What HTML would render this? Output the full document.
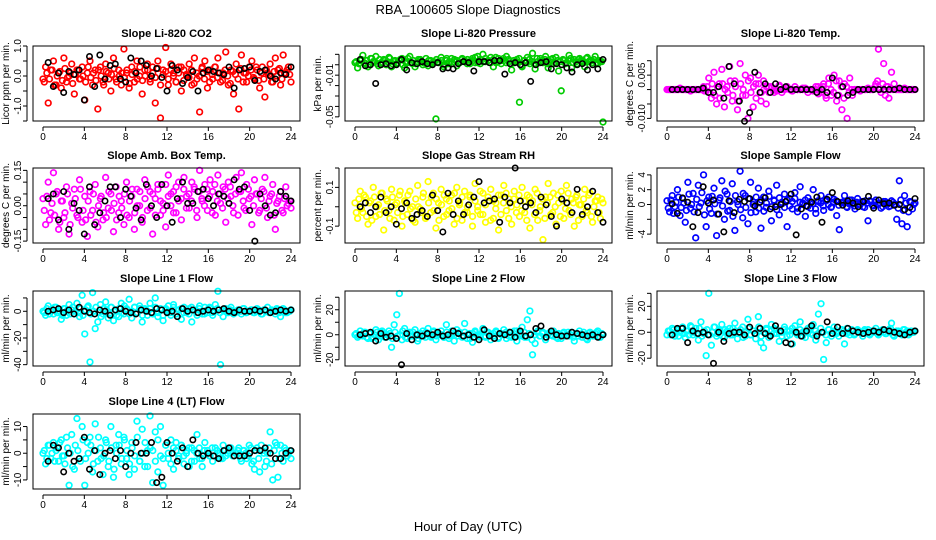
<!DOCTYPE html>
<html><head><meta charset="utf-8"><style>
body{margin:0;background:#fff}
svg{display:block;font-family:"Liberation Sans",sans-serif}
</style></head><body>
<svg id="chart" width="936" height="540" viewBox="0 0 936 540">
<text x="468" y="14" text-anchor="middle" font-size="13">RBA_100605  Slope Diagnostics</text>
<text x="468" y="531" text-anchor="middle" font-size="13">Hour of Day (UTC)</text>
</svg>
<script>
const hourTicks = [0,4,8,12,16,20,24];
const titles = ["Slope Li-820 CO2","Slope Li-820 Pressure","Slope Li-820 Temp.","Slope Amb. Box Temp.","Slope Gas Stream RH","Slope Sample Flow","Slope Line 1 Flow","Slope Line 2 Flow","Slope Line 3 Flow","Slope Line 4 (LT) Flow"];
const yTitles = ["Licor ppm per min.","kPa per min.","degrees C per min.","degrees C per min.","percent per min.","ml/min per min.","ml/min per min.","ml/min per min.","ml/min per min.","ml/min per min."];
const colors = ["#ff0000","#00cc00","#ff00ff","#ff00ff","#ffff00","#0000ff","#00ffff","#00ffff","#00ffff","#00ffff"];
const yLims = [[-1.5,1.0],[-0.054,0.018],[-0.0109,0.0151],[-0.158,0.16],[-0.187,0.2],[-5.2,4.93],[-41,15.2],[-25,35],[-26,31.8],[-13.4,14.7]];
const yTicks = [[-1.5,-1,-0.5,0,0.5,1],[0.01,0,-0.01,-0.02,-0.03,-0.04,-0.05],[0.01,0.005,0,-0.005,-0.01],[-0.15,-0.1,-0.05,0,0.05,0.1,0.15],[-0.1,0,0.1,0.2],[-4,-2,0,2,4],[-40,-30,-20,-10,0,10],[-20,-10,0,10,20,30],[-20,-10,0,10,20,30],[-10,-5,0,5,10]];
const yTickLabels = [{"-1":"-1.0","0":"0.0","1":"1.0"},{"-0.01":"-0.01","-0.05":"-0.05"},{"0.005":"0.005","-0.01":"-0.010"},{"-0.15":"-0.15","0":"0.00","0.15":"0.15"},{"-0.1":"-0.1","0.1":"0.1"},{"-4":"-4","0":"0","2":"2","4":"4"},{"-40":"-40","-20":"-20","0":"0"},{"-20":"-20","0":"0","20":"20"},{"-20":"-20","0":"0","20":"20"},{"-10":"-10","0":"0","10":"10"}];

const co2Vals = [-0.1,0.3,-0.9,0.2,0.5,-0.3,0.1,-0.4,0.6,-0.2,0.0,0.4,-0.6,0.2,-0.1,0.3,-0.8,0.1,0.5,-0.3,0.2,-1.1,0.3,-0.2,0.4,0.1,-0.5,0.6,-0.1,0.2,-0.3,0.9,0.1,-0.4,0.3,-0.2,0.5,0.0,-0.6,0.2,0.4,-0.1,0.3,-0.9,0.5,-1.4,0.2,0.95,-0.3,0.4,0.1,-0.2,0.3,-0.5,0.2,0.0,0.4,-0.3,0.6,-0.1,-1.2,0.3,0.5,-0.4,0.2,-0.1,0.3,0.6,-0.2,0.1,0.8,-0.3,0.2,-0.6,0.4,-1.1,0.7,0.1,-0.2,0.3,0.5,-0.1,0.2,-0.4,0.3,-0.7,0.1,0.4,-0.2,0.6,0.2,-0.3,0.7,0.1,0.3,-0.2];
const co2Band = [-0.2,0.1,-0.1,0.2,-0.3,0.0,0.15,-0.15,0.25,-0.05,0.1,-0.25,0.05,0.2,-0.1,0.0,-0.2,0.3,-0.05,0.1,-0.15,0.2,0.0,-0.3,0.15,-0.1,0.05,0.25,-0.2,0.0,0.1,-0.05,0.2,-0.25,0.05,0.15,-0.1,0.3,-0.15,0.0,0.2,-0.2,0.1,-0.05,0.25,-0.3,0.05,0.15,-0.1,0.2,0.0,-0.2,0.1,0.3,-0.15,0.05,-0.05,0.2,-0.25,0.1,0.0,0.25,-0.1,0.15,-0.2,0.05,0.3,-0.05,0.1,-0.15,0.2,0.0,-0.25,0.15,0.05,-0.1,0.25,-0.2,0.1,0.0,0.2,-0.05,0.3,-0.15,0.1,-0.1,0.2,0.05,-0.2,0.15,0.0,0.25,-0.1,0.1,0.2,0.05];
const co2Black = [0.45,-0.35,0.1,-0.55,0.15,0.05,0.2,-0.8,0.65,-0.35,0.7,-0.1,0.35,0.4,-0.1,-0.2,0.6,0.1,0.5,0.35,0.0,0.25,-0.05,-0.5,0.35,0.2,-0.25,-0.05,0.15,-0.5,0.1,0.2,0.15,0.1,0.05,0.3,-0.4,0.2,0.25,0.3,-0.15,0.15,0.2,0.0,-0.1,0.1,0.05,0.3];
const presVals = [0.002,-0.003,0.004,0.009,0.001,-0.002,0.006,0.003,0.008,-0.001,0.002,0.005,0.000,0.007,-0.002,0.003,0.001,0.004,0.006,-0.003,0.002,0.008,0.001,-0.002,0.003,0.005,0.000,0.002,-0.001,0.004,0.002,-0.052,0.003,0.007,-0.002,0.004,0.001,0.006,0.003,-0.001,0.002,0.005,0.004,0.001,0.003,0.006,0.002,0.008,0.001,0.010,0.003,0.004,0.007,-0.002,0.002,0.006,0.001,0.004,0.008,0.003,-0.005,0.002,0.005,-0.036,-0.002,0.004,0.007,0.001,0.011,-0.004,0.003,0.006,0.002,0.008,-0.003,0.005,0.001,0.007,-0.006,-0.025,0.004,0.002,0.009,-0.003,0.005,0.001,0.006,0.003,-0.002,0.007,0.004,0.002,0.008,0.001,0.003,-0.055];
const presBand = [0.003,0.001,0.005,0.002,0.004,0.000,0.006,0.003,0.001,0.005,0.002,0.004,0.003,0.006,0.001,0.004,0.002,0.005,0.000,0.003,0.006,0.002,0.004,0.001,0.005,0.003,0.002,0.006,0.004,0.001,0.003,0.005,0.002,0.004,0.000,0.006,0.003,0.001,0.005,0.004,0.002,0.006,0.003,0.005,0.001,0.004,0.007,0.002,0.005,0.003,0.006,0.004,0.002,0.005,0.007,0.003,0.004,0.006,0.002,0.005,0.001,0.004,0.003,0.006,-0.001,0.004,0.002,0.005,0.003,0.001,0.006,0.002,0.004,0.005,0.001,0.003,0.006,0.002,0.004,0.003,0.005,0.001,0.004,0.006,0.002,0.003,0.005,0.004,0.002,0.006,0.003,0.004,0.005,0.002,0.004,0.003];
const presBlack = [0.005,-0.001,0.000,-0.018,0.000,0.001,-0.001,0.000,0.005,-0.005,0.002,0.001,0.003,0.001,0.000,0.002,-0.004,-0.003,-0.004,0.001,0.003,0.002,-0.006,0.003,0.003,0.002,0.004,0.004,-0.009,0.001,0.002,0.000,0.002,-0.016,0.000,0.002,0.003,-0.004,0.001,0.000,-0.003,-0.007,0.000,0.001,-0.005,0.000,-0.004,0.005];
const tempVals = [0,0,0,0,0,0.0005,0,0,0,-0.0005,0,0,0,0,0.001,-0.0005,0.004,-0.003,0.006,-0.005,0.002,0.007,-0.006,0.001,0.008,-0.004,0.003,-0.007,0.009,-0.002,0.005,-0.010,0.004,-0.006,0.002,0.005,-0.004,0.003,-0.005,0.001,0.001,-0.001,0,0.0015,-0.001,0,0.001,0,-0.0005,0.001,0,0,0.0005,0,-0.001,0,0,0.001,-0.0015,0.0005,0.002,-0.003,0.004,-0.002,0.005,-0.004,0.003,-0.007,0.002,-0.010,0.004,-0.002,0,0,-0.0005,0,0,0.0005,0,0,0.002,0.014,-0.001,0.009,0.001,-0.003,0.006,0.002,0,0,0,0.0005,0,0,0,0];
const tempBand = [0,0,0,0,0,0,0,0,0,0,0,0,0,0,-0.0005,0.001,-0.001,0.002,-0.002,0.001,-0.003,0.002,0.000,-0.001,0.003,-0.002,0.001,-0.004,0.002,0.000,-0.002,0.003,-0.001,0.001,-0.003,0.002,-0.001,0.000,0.001,-0.001,0.0005,0,-0.0005,0.001,0,0,0.0005,0,-0.0005,0,0,0,0,0.0005,0,0,-0.0005,0,0.001,-0.001,0.001,-0.002,0.002,0.000,-0.001,0.003,-0.002,0.001,-0.003,0.001,-0.001,0.000,0,0,0,0,0,0,0,0,0.001,0.003,0.000,0.002,-0.002,0.001,0,0,0,0,0,0,0,0,0,0];
const tempBlack = [0,0,0,0,0,0,0.0005,-0.001,-0.001,0.001,-0.003,0.008,0.002,-0.004,-0.011,-0.008,0.006,-0.001,0.002,-0.001,0.002,0,0.001,0,0,0,0,0,-0.001,0,-0.001,0.004,-0.002,0.001,-0.002,-0.001,0,0,0,0,0,0,0,0,0.0005,0,0,0];
const ambVals = [0.03,-0.08,0.10,-0.03,0.14,0.05,-0.10,0.02,-0.05,0.08,-0.12,0.01,0.07,-0.04,0.11,-0.07,0.04,-0.13,0.06,-0.02,0.09,-0.09,0.03,-0.06,0.12,-0.01,0.05,-0.11,0.08,-0.03,0.02,-0.08,0.10,-0.05,0.04,-0.10,0.07,0.00,-0.07,0.11,-0.02,0.06,-0.12,0.03,0.09,-0.04,0.01,-0.09,0.13,0.05,-0.03,0.08,0.02,-0.06,0.12,0.04,-0.01,0.10,0.07,-0.05,0.15,0.02,0.09,-0.02,0.11,0.06,-0.04,0.13,0.01,0.08,-0.07,0.10,0.04,-0.03,0.12,0.06,0.14,-0.01,0.09,0.03,-0.08,0.11,0.05,-0.02,0.07,0.12,-0.05,0.04,0.09,-0.10,0.02,0.06,-0.03,0.08,0.01,-0.01];
const ambBand = [-0.02,0.04,-0.06,0.01,-0.04,0.06,-0.07,0.02,-0.03,0.05,-0.08,-0.01,0.03,-0.05,0.07,-0.02,-0.06,0.02,-0.04,0.05,-0.07,0.00,0.04,-0.03,-0.05,0.06,-0.02,0.01,-0.06,0.04,-0.01,0.05,-0.04,0.02,0.07,-0.03,0.00,0.06,-0.05,0.03,0.08,-0.01,0.05,-0.04,0.07,0.02,-0.02,0.09,0.04,0.00,0.06,-0.03,0.10,0.03,0.07,-0.01,0.05,0.02,0.08,-0.02,0.06,0.03,0.00,0.07,0.04,-0.03,0.09,0.02,0.05,-0.01,0.07,0.03,0.08,0.00,0.05,-0.04,0.06,0.02,-0.02,0.07,0.04,0.00,0.05,-0.03,0.03,0.06,-0.01,0.02,0.05,-0.04,0.01,0.04,-0.02,0.03,0.00,0.02];
const ambBlack = [0.03,0.05,-0.06,0.06,-0.10,0.01,-0.02,-0.12,0.08,-0.08,-0.03,0.02,0.08,0.08,-0.05,0.07,0.04,-0.01,-0.06,0.09,0.00,-0.05,0.09,0.00,-0.07,0.03,0.10,0.01,0.01,0.06,0.07,0.03,0.00,0.05,0.04,0.01,0.11,0.07,0.08,-0.02,-0.15,0.05,0.00,-0.04,-0.03,0.06,0.04,0.02];
const rhVals = [0.02,-0.06,0.08,-0.03,0.05,-0.09,0.03,0.10,-0.05,0.01,0.07,-0.12,0.04,-0.02,0.09,-0.07,0.02,0.06,-0.10,0.03,-0.04,0.08,0.00,-0.08,0.11,-0.01,0.05,-0.06,0.13,-0.03,0.07,-0.11,0.02,0.09,-0.05,0.04,-0.02,0.06,-0.09,0.10,0.01,-0.07,0.08,-0.03,0.05,-0.10,0.12,0.00,-0.04,0.07,-0.08,0.03,0.09,-0.06,0.02,-0.12,0.06,0.11,-0.02,0.04,-0.09,0.08,0.01,-0.05,0.10,-0.03,0.06,-0.11,0.03,0.09,-0.07,0.00,-0.17,0.05,0.12,-0.04,0.07,-0.09,0.02,0.08,-0.06,0.11,-0.02,0.04,-0.10,0.06,0.01,-0.05,0.09,-0.03,0.07,-0.08,0.03,0.05,-0.06,0.02];
const rhBand = [-0.03,0.04,-0.01,0.06,-0.05,0.02,-0.07,0.05,0.00,-0.04,0.07,-0.02,0.03,-0.06,0.05,0.01,-0.03,0.08,-0.05,0.02,0.06,-0.01,-0.07,0.04,0.00,-0.03,0.07,-0.05,0.02,0.05,-0.02,0.04,-0.07,0.01,0.06,-0.04,0.03,-0.01,0.07,-0.06,0.02,0.05,-0.03,0.00,0.06,-0.05,0.03,-0.02,0.08,-0.04,0.01,0.05,-0.07,0.03,-0.01,0.06,-0.04,0.02,0.07,-0.06,0.00,0.04,-0.03,0.06,-0.02,0.03,-0.07,0.05,0.01,-0.04,0.07,-0.02,0.04,-0.06,0.02,0.05,-0.03,0.00,0.06,-0.05,0.03,-0.01,0.07,-0.04,0.02,0.05,-0.07,0.01,0.04,-0.02,0.06,-0.05,0.00,0.03,-0.03,0.04];
const rhBlack = [0.00,0.02,-0.03,0.00,0.05,-0.03,0.00,-0.09,-0.01,0.02,-0.06,-0.04,-0.02,-0.05,0.06,-0.02,-0.13,0.07,-0.04,0.03,-0.04,0.01,0.05,0.13,0.02,0.03,0.04,-0.08,0.05,0.02,0.20,0.03,0.00,0.02,-0.03,0.05,0.01,-0.05,-0.10,0.04,0.02,-0.03,0.09,-0.04,0.00,0.08,-0.03,-0.08];
const sampleVals = [0.5,-1.0,1.2,-0.3,2.0,-1.5,0.8,-2.4,3.0,-0.5,1.5,-4.5,2.6,0.2,4.0,-3.0,1.0,-1.2,2.2,-4.2,0.6,3.2,-2.0,1.4,-0.8,2.8,-3.5,0.4,4.5,-1.8,1.2,-2.6,3.0,0.0,-1.0,2.2,-3.2,1.0,-0.4,1.8,-2.2,0.6,2.6,-1.4,0.3,1.4,-3.0,0.8,-0.6,1.6,-1.0,2.4,0.2,-1.6,0.9,-0.5,2.0,-1.2,0.4,1.2,-0.8,0.5,1.0,-0.3,0.7,-1.5,-3.4,0.3,1.2,-0.4,0.6,0.2,-0.6,0.8,0.0,-0.3,0.5,-2.2,0.4,-0.2,0.6,0.1,-0.5,0.4,0.2,-0.3,0.5,0.0,-2.0,3.2,-2.6,1.2,-3.0,0.4,-0.6,0.2];
const sampleBand = [-0.5,0.6,-1.2,0.3,1.0,-0.4,0.2,-0.8,1.4,0.0,-1.0,0.7,-0.3,1.6,-1.4,0.5,-0.6,1.1,0.1,-1.3,0.9,-0.2,1.8,-0.9,0.4,-1.6,1.2,0.0,-0.7,1.5,-0.4,0.8,-1.1,0.3,1.0,-0.5,0.6,-0.9,0.2,1.1,-0.3,0.5,-0.7,0.9,0.1,-0.4,0.6,-0.2,0.4,0.8,-0.5,0.3,0.0,0.6,-0.3,0.4,0.1,-0.6,0.5,0.2,-0.2,0.7,0.0,-0.4,0.3,0.5,-0.1,0.2,0.4,-0.3,0.1,0.6,-0.2,0.3,0.0,0.4,-0.4,0.2,0.5,-0.1,0.3,0.0,0.2,-0.3,0.4,0.1,-0.2,0.3,0.0,-0.5,0.6,-0.8,0.2,-1.0,0.3,0.0];
const sampleBlack = [0.1,-1.2,0.9,0.3,-3.0,-1.1,2.4,0.2,0.6,-1.3,-3.7,0.5,-1.1,0.7,0.4,0.8,-0.2,0.3,0.9,-0.6,-0.3,0.0,0.4,1.4,-4.1,-0.6,-0.2,0.3,1.0,-2.4,0.7,1.6,0.4,-0.1,0.5,0.2,-0.3,0.4,1.1,-0.5,0.6,0.1,0.2,-0.1,0.0,-0.7,-0.4,0.8];
const line1Vals = [0,-3,4,1,-2,3,-1,-6,2,-3,5,1,-2,6,-4,12,-17,3,-38,14,-13,-8,5,-2,7,-5,3,-7,1,-4,6,-2,2,9,-5,3,-1,4,-8,2,-3,6,-1,10,-4,2,-7,1,4,-3,5,-2,1,-6,3,-1,2,-8,1,-3,4,-2,3,-1,2,-3,5,15,-40,-4,2,-1,3,-2,0,1,-2,2,-1,0,1,-1,2,0,-2,1,3,-1,0,-2,1,-4,2,-1,0,1];
const line1Band = [-1,2,-2,1,3,-1,0,-3,2,1,-2,3,0,-1,2,-3,1,4,-2,0,3,-1,-4,2,1,-2,3,0,-3,2,-1,4,1,-2,0,3,-1,2,-3,1,0,2,-2,3,-1,1,-3,2,0,-1,3,-2,1,2,-1,0,-2,3,1,-1,2,0,-2,1,3,-1,0,2,-1,1,0,-1,1,0,-1,1,0,2,-1,0,1,-1,0,1,-2,1,0,-1,1,0,2,-1,0,1,-1,0];
const line1Black = [0,1,2,-1,1,-2,3,0,-1,-2,1,0,-3,1,2,0,-1,-2,1,0,-1,2,1,-1,0,-4,2,0,1,-1,0,1,0,1,2,0,-1,1,0,0,1,0,1,-1,0,1,0,1];
const line2Vals = [0,-2,3,-1,2,-3,1,-2,4,-4,2,0,-2,3,-10,8,16,33,-4,5,-3,2,-1,4,-5,1,3,-2,5,-1,2,-4,0,3,-2,8,-3,1,-5,4,2,-1,9,-3,1,-6,3,0,-2,5,-1,2,-4,1,3,-2,0,4,-3,2,-1,3,-5,1,6,-2,12,19,-16,-7,3,-1,2,-4,1,0,3,-2,1,-3,2,0,-1,2,-5,1,3,-2,0,-4,2,-1,1,3,-2,0];
const line2Band = [1,-1,0,2,-2,1,-3,0,2,-1,3,-2,0,1,-3,2,-1,0,3,-2,1,-1,2,0,-3,1,-1,2,0,-2,3,-1,1,0,-2,2,-1,3,0,-1,1,-2,2,0,-3,1,2,-1,0,3,-2,1,0,-1,2,-3,1,0,2,-1,-2,1,3,0,-1,2,-2,1,-4,0,2,-1,1,-2,0,2,-1,1,-3,0,1,-1,2,0,-2,1,-1,0,2,-3,1,0,-1,2,-2,1];
const line2Black = [0,1,2,-5,1,-2,-1,-3,-24,1,-4,0,-1,1,0,2,-1,0,3,1,-1,0,-2,-4,4,-1,-3,1,0,2,-2,3,-1,0,5,7,-2,3,0,-1,-1,2,1,0,-1,0,-2,0];
const line3Vals = [-2,1,3,-3,2,0,4,-4,1,5,-2,3,-6,8,-1,-18,30,-10,4,-3,2,6,-4,1,3,-2,7,-5,0,4,-3,10,-2,1,-5,12,-8,-12,3,-4,6,-1,2,-7,0,4,-3,1,-9,5,-2,8,0,-4,3,-1,6,-6,14,22,-21,-8,2,-3,4,-1,0,2,-9,3,-2,1,-1,2,0,-3,1,2,-1,0,3,-2,1,0,-1,2,7,-3,1,0,-2,2,1,-1,0,1];
const line3Band = [1,-2,2,0,-3,3,-1,1,-2,4,0,-1,3,-3,1,2,-2,0,4,-1,1,-3,2,0,-2,3,1,-1,2,-4,0,3,-2,1,-1,4,-3,0,2,-2,1,3,-1,0,-3,2,1,-2,3,0,-1,2,-3,1,0,4,-2,1,-1,3,0,-2,2,-1,1,0,-3,2,1,-1,0,2,-2,1,0,-1,2,0,-2,1,1,-1,0,2,-1,1,3,-2,0,1,-1,2,0,-2,1,0];
const line3Black = [-2,3,3,-8,1,-1,0,-2,-24,0,-7,-1,0,0,-2,4,-1,3,-1,-3,5,1,-8,-9,0,-3,1,5,-3,0,8,-1,4,-1,3,1,0,-1,0,1,0,2,1,0,-1,-2,0,1];
const line4Vals = [0,-4,3,-2,4,1,-3,5,-1,6,-12,7,-6,13,-2,10,-12,4,6,-7,11,-3,2,-8,5,-5,10,-9,3,7,-4,6,-2,-8,4,-6,12,-3,9,-5,1,14,-11,8,-7,10,-12,3,-2,5,-6,4,-1,3,-4,1,-5,2,-3,7,-2,-5,4,1,-1,-3,2,0,-2,3,-1,1,2,-1,0,2,-3,1,-2,3,-4,-6,2,-7,1,-5,0,8,-10,4,-9,3,-3,1,0,-2];
const line4Band = [1,-2,3,0,-3,2,4,-1,-4,2,0,-5,3,1,-3,5,-2,0,3,-4,1,6,-2,-1,4,-3,2,-6,0,3,-2,5,1,-4,2,-1,6,-3,0,4,-5,2,1,-3,5,-1,-2,3,0,-4,2,1,-2,3,-1,0,2,-3,1,0,2,-2,1,0,-1,2,-1,1,0,-2,1,0,2,-1,0,1,-2,1,0,-1,2,-3,1,-2,3,0,-3,2,-4,1,3,-2,0,2,-1,1];
const line4Black = [-3,3,2,-7,0,-3,-2,6,-6,1,-8,0,1,-2,1,-5,0,4,0,0,4,-11,-9,4,0,-3,2,-5,5,0,-1,0,-1,-2,1,2,-1,-1,-1,0,1,1,2,0,-2,-2,0,1];

const colorSeries = [co2Vals,presVals,tempVals,ambVals,rhVals,sampleVals,line1Vals,line2Vals,line3Vals,line4Vals];
const bandSeries = [co2Band,presBand,tempBand,ambBand,rhBand,sampleBand,line1Band,line2Band,line3Band,line4Band];
const blackSeries = [co2Black,presBlack,tempBlack,ambBlack,rhBlack,sampleBlack,line1Black,line2Black,line3Black,line4Black];

const NS = "http://www.w3.org/2000/svg";
const svg = document.getElementById("chart");
const colLeft = [33,345,657], rowTop = [46,168,291,414], boxW = 267, boxH = 75;
function mk(tag, attrs, parent){const e=document.createElementNS(NS,tag);for(const k in attrs)e.setAttribute(k,attrs[k]);parent.appendChild(e);return e;}

for (let p=0;p<10;p++){
  const L=colLeft[p%3], T=rowTop[Math.floor(p/3)], B=T+boxH, R=L+boxW;
  const g=mk("g",{},svg);
  
  
  const xS=h=>L+10+h*(248/24);
  const [y0,y1]=yLims[p];
  const yS=v=>B-(v-y0)/(y1-y0)*boxH;
  const t=mk("text",{x:(L+R)/2,y:T-9,"text-anchor":"middle","font-size":"11","font-weight":"bold"},g);
  t.textContent=titles[p];
  
  
  const yt=mk("text",{x:0,y:0,"text-anchor":"middle","font-size":"10",transform:`translate(${L-24},${(T+B)/2}) rotate(-90)`},g);
  yt.textContent=yTitles[p];
  
  
  const cs=colorSeries[p];
  cs.forEach((v,i)=>{
    const c=mk("circle",{cx:xS(i*24/(cs.length-1)),cy:yS(v),r:2.8,fill:"none",stroke:colors[p],"stroke-width":1.7},g);
    
    
  });
  const bd=bandSeries[p];
  bd.forEach((v,i)=>{
    const c=mk("circle",{cx:xS((i+0.5)*24/bd.length),cy:yS(v),r:2.8,fill:"none",stroke:colors[p],"stroke-width":1.7},g);
    
    
  });
  const bs=blackSeries[p];
  bs.forEach((v,i)=>{
    const c=mk("circle",{cx:xS(0.5+i*23.5/(bs.length-1)),cy:yS(v),r:2.7,fill:"none",stroke:"#000","stroke-width":1.6},g);
    
    
  });
  const box=mk("rect",{x:L,y:T,width:boxW,height:boxH,fill:"none",stroke:"#000","stroke-width":1},g);
  
  
  mk("line",{x1:xS(0),x2:xS(24),y1:B+6,y2:B+6,stroke:"#000"},g);
  hourTicks.forEach(h=>{
    mk("line",{x1:xS(h),x2:xS(h),y1:B+6,y2:B+10,stroke:"#000"},g);
    const tx=mk("text",{x:xS(h),y:B+19,"text-anchor":"middle","font-size":"10"},g);
    tx.textContent=h;
    
    
  });
  const tk=yTicks[p];
  mk("line",{x1:L-6,x2:L-6,y1:yS(Math.min(...tk)),y2:yS(Math.max(...tk)),stroke:"#000"},g);
  tk.forEach(v=>{
    mk("line",{x1:L-10,x2:L-6,y1:yS(v),y2:yS(v),stroke:"#000"},g);
    const lab=yTickLabels[p][String(v)];
    if(lab!==undefined){
      const ty=mk("text",{x:0,y:0,"text-anchor":"middle","font-size":"10",transform:`translate(${L-12},${yS(v)}) rotate(-90)`},g);
      ty.textContent=lab;
      
      
    }
  });
}
</script>
</body></html>
